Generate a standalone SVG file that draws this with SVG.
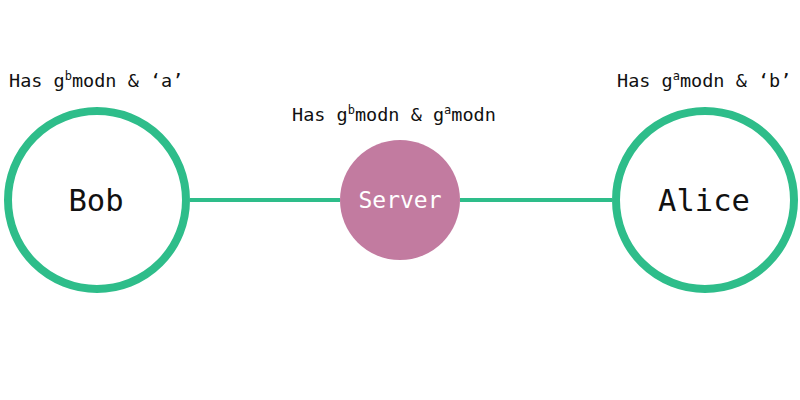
<svg xmlns="http://www.w3.org/2000/svg" width="800" height="400" viewBox="0 0 800 400">
<style>
.ring{fill:#fff;stroke:#2EBD8A;stroke-width:8}
.conn{stroke:#2EBD8A;stroke-width:4;fill:none}
.lbl{font-family:"DejaVu Sans Mono","Liberation Mono",monospace;font-size:18.5px;fill:#111}
.big{font-family:"DejaVu Sans Mono","Liberation Mono",monospace;font-size:30.5px;fill:#111;text-anchor:middle;dominant-baseline:central}
.sup{font-size:12px}
</style>
<rect width="800" height="400" fill="#fff"/>
<g id="connectors">
<line class="conn" x1="190" y1="200" x2="340" y2="200"/>
<line class="conn" x1="460" y1="200" x2="612" y2="200"/>
</g>
<g id="bob">
<circle class="ring" cx="97" cy="200" r="89"/>
<text class="big" x="96" y="200">Bob</text>
<text class="lbl" x="9" y="87">Has g<tspan class="sup" dy="-7">b</tspan><tspan dy="7">modn &amp; ‘a’</tspan></text>
</g>
<g id="server">
<circle cx="400" cy="200" r="60" fill="#C27BA0"/>
<text class="big" x="400" y="200" style="fill:#fff;font-size:23px">Server</text>
<text class="lbl" x="292" y="121">Has g<tspan class="sup" dy="-7">b</tspan><tspan dy="7">modn &amp; g</tspan><tspan class="sup" dy="-7">a</tspan><tspan dy="7">modn</tspan></text>
</g>
<g id="alice">
<circle class="ring" cx="705" cy="200" r="89"/>
<text class="big" x="704" y="200">Alice</text>
<text class="lbl" x="617" y="87">Has g<tspan class="sup" dy="-7">a</tspan><tspan dy="7">modn &amp; ‘b’</tspan></text>
</g>
</svg>
